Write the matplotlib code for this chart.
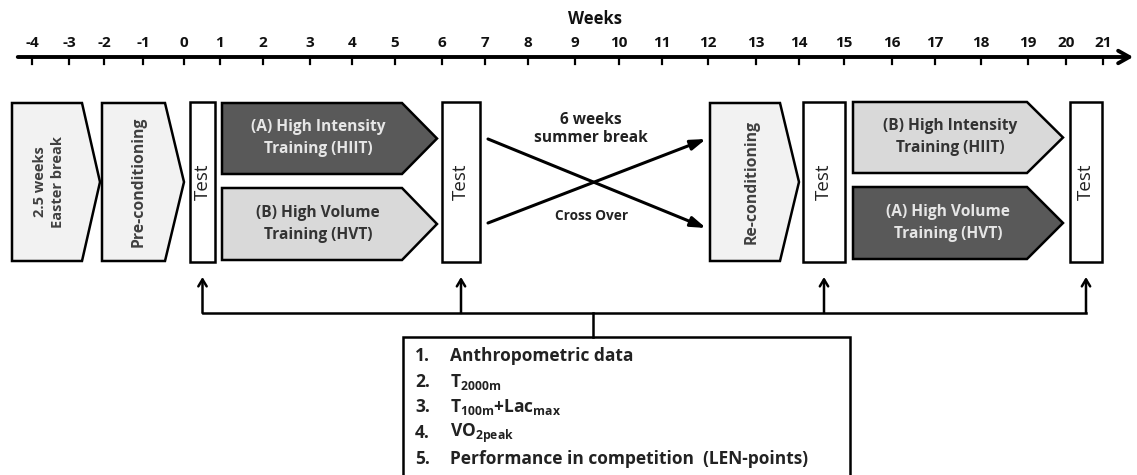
import matplotlib
matplotlib.use("Agg")
import matplotlib.pyplot as plt
from matplotlib.patches import Polygon, Rectangle

plt.rcParams['font.family'] = ['Open Sans', 'DejaVu Sans']
plt.rcParams['mathtext.fontset'] = 'custom'
plt.rcParams['mathtext.bf'] = 'Open Sans:bold'
plt.rcParams['mathtext.rm'] = 'Open Sans:bold'
plt.rcParams['mathtext.default'] = 'bf'

# week axis
weeks = [-4, -3, -2, -1, 0, 1, 2, 3, 4, 5, 6, 7, 8, 9, 10, 11, 12, 13, 14, 15, 16, 17, 18, 19, 20, 21]
week_px = [32, 69, 104, 143, 184, 220, 263, 310, 352, 395, 442, 485, 528, 575, 619, 662,
           708, 756, 799, 844, 892, 935, 981, 1028, 1066, 1103]

# phases (chevrons)
phase_labels = ['2.5 weeks\nEaster break', 'Pre-conditioning',
                '(A) High Intensity\nTraining (HIIT)', '(B) High Volume\nTraining (HVT)',
                'Re-conditioning',
                '(B) High Intensity\nTraining (HIIT)', '(A) High Volume\nTraining (HVT)']
test_label = 'Test'
break_labels = ['6 weeks\nsummer break', 'Cross Over']
measures = ['Anthropometric data', r'T$_{2000m}$', r'T$_{100m}$+Lac$_{max}$',
            r'VO$_{2peak}$', 'Performance in competition  (LEN-points)']

DARK = '#595959'
LIGHT = '#d9d9d9'
PALE = '#f2f2f2'

fig = plt.figure(figsize=(11.37, 4.75), dpi=100)
ax = fig.add_axes([0, 0, 1, 1])
ax.set_xlim(0, 1137)
ax.set_ylim(475, 0)
ax.axis('off')

# timeline
ax.annotate('', xy=(1136, 57), xytext=(15, 57),
            arrowprops=dict(arrowstyle='->,head_length=0.8,head_width=0.45', lw=2.8, color='black'))
for w, x in zip(weeks, week_px):
    ax.plot([x, x], [57, 64], color='black', lw=1.6)
    ax.text(x, 43, str(w), ha='center', va='center', fontsize=11, fontweight='bold', color='#111111')
ax.text(595, 19, 'Weeks', ha='center', va='center', fontsize=12, fontweight='bold', color='#111111')


def chevron(x0, x1, xt, y0, y1, fc):
    ym = (y0 + y1) / 2
    p = Polygon([(x0, y0), (x1, y0), (xt, ym), (x1, y1), (x0, y1)], closed=True,
                fc=fc, ec='black', lw=1.8, joinstyle='miter')
    ax.add_patch(p)


# left block
chevron(12, 82, 100, 103, 261, PALE)
ax.text(49, 182, phase_labels[0], rotation=90, ha='center', va='center', fontsize=10.5,
        fontweight='bold', color='#404040', linespacing=1.45)
chevron(102, 165, 184, 103, 261, PALE)
ax.text(139, 182, phase_labels[1], rotation=90, ha='center', va='center', fontsize=11.3,
        fontweight='bold', color='#404040')

chevron(222, 402, 437, 103, 174, DARK)
ax.text(318, 138, phase_labels[2], ha='center', va='center', fontsize=11.2,
        fontweight='bold', color='#e6e6e6', linespacing=1.45)
chevron(222, 402, 437, 188, 260, LIGHT)
ax.text(318, 224, phase_labels[3], ha='center', va='center', fontsize=11.2,
        fontweight='bold', color='#333333', linespacing=1.45)

chevron(710, 780, 799, 103, 261, PALE)
ax.text(752, 182, phase_labels[4], rotation=90, ha='center', va='center', fontsize=11.3,
        fontweight='bold', color='#404040')

chevron(853, 1027, 1063, 102, 173, LIGHT)
ax.text(950, 137, phase_labels[5], ha='center', va='center', fontsize=11.2,
        fontweight='bold', color='#333333', linespacing=1.45)
chevron(853, 1027, 1063, 187, 259, DARK)
ax.text(948, 223, phase_labels[6], ha='center', va='center', fontsize=11.2,
        fontweight='bold', color='#e6e6e6', linespacing=1.45)

# test boxes
tests = [(190, 215), (442, 480), (803, 845), (1070, 1102)]
for x0, x1 in tests:
    ax.add_patch(Rectangle((x0, 102), x1 - x0, 160, fc='white', ec='black', lw=1.8))
    ax.text((x0 + x1) / 2, 182, test_label, rotation=90, ha='center', va='center',
            fontsize=13.5, color='#222222')

# crossover arrows
arr = dict(arrowstyle='-|>,head_length=0.9,head_width=0.3', lw=2.2, color='black', shrinkA=0, shrinkB=0)
ax.annotate('', xy=(706, 228), xytext=(488, 139), arrowprops=arr)
ax.annotate('', xy=(706, 139), xytext=(488, 223), arrowprops=arr)
ax.text(591, 129, break_labels[0], ha='center', va='center', fontsize=11.2,
        fontweight='bold', color='#222222', linespacing=1.25)
ax.text(592, 216, break_labels[1], ha='center', va='center', fontsize=9.8,
        fontweight='bold', color='#222222')

# measurement bracket
ax.plot([203, 1086], [313, 313], color='black', lw=1.8)
up = dict(arrowstyle='->,head_length=0.5,head_width=0.3', lw=1.8, color='black', shrinkA=0, shrinkB=0)
for x0, x1 in tests:
    xc = (x0 + x1) / 2
    ax.annotate('', xy=(xc, 277), xytext=(xc, 313), arrowprops=up)
ax.plot([593, 593], [313, 337], color='black', lw=1.8)
ax.add_patch(Rectangle((403, 337), 447, 150, fc='white', ec='black', lw=1.8))

ys = [356, 382, 407, 433, 459]
for i, (m, y) in enumerate(zip(measures, ys)):
    ax.text(415, y, f'{i + 1}.', ha='left', va='center', fontsize=12.5, fontweight='bold', color='#222222')
    ax.text(450, y, m, ha='left', va='center', fontsize=12.5, fontweight='bold', color='#222222')

fig.savefig('out.png', dpi=100)
